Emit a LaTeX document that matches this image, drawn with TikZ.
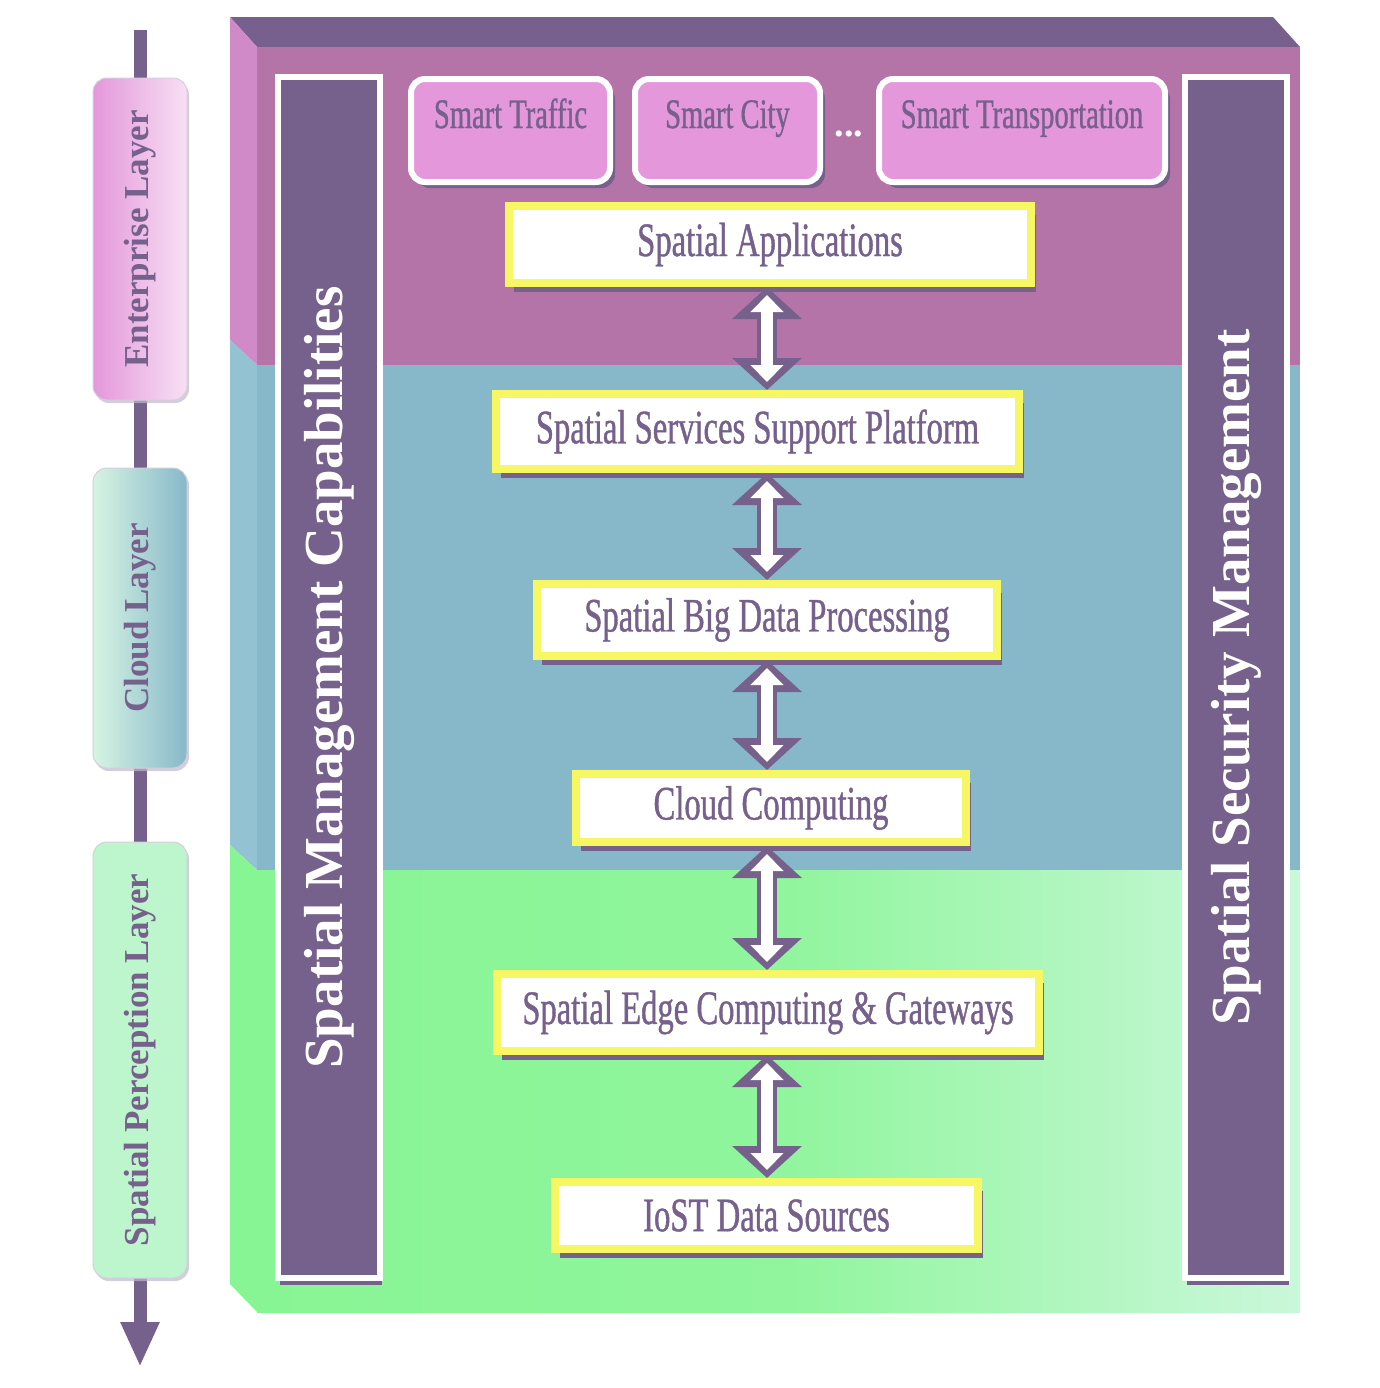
\documentclass[tikz,border=0pt]{standalone}
\usepackage{fontspec}
\setmainfont{Liberation Serif}
\newfontfamily\condfont[FakeStretch=0.68,FakeBold=0.8]{Liberation Serif}
\usepackage{tikz}
\usetikzlibrary{arrows.meta,shadows}

\definecolor{darkviolet}{HTML}{76608C}
\definecolor{topface}{HTML}{78608E}
\definecolor{enterband}{HTML}{B474A8}
\definecolor{enterside}{HTML}{D08AC8}
\definecolor{cloudband}{HTML}{87B8CA}
\definecolor{cloudside}{HTML}{93C2D2}
\definecolor{cloudlight}{HTML}{D6F4E2}
\definecolor{greenleft}{HTML}{88F594}
\definecolor{greenright}{HTML}{CAF7DA}
\definecolor{greenpale}{HTML}{BDF5CD}
\definecolor{appink}{HTML}{E497DB}
\definecolor{boxyellow}{HTML}{F7F763}

\def\PX{0.5pt}

\tikzset{
  sidecol/.style={draw=white, line width=3pt, fill=darkviolet, inner sep=0pt,
    minimum width=102*\PX, minimum height=1201*\PX, text=white,
    font=\bfseries\fontsize{27.5}{30}\selectfont,
    drop shadow={shadow xshift=1pt, shadow yshift=-3.5pt, fill=darkviolet, opacity=1}},
  appbox/.style={rounded corners=7pt, draw=white, line width=3pt, fill=appink,
    inner sep=0pt, text height=24.5pt, text depth=27pt, text=darkviolet,
    font=\condfont\fontsize{21}{24}\selectfont,
    drop shadow={shadow xshift=2.5pt, shadow yshift=-3pt, fill=darkviolet, opacity=1}},
  stackbox/.style={draw=boxyellow, line width=4pt, fill=white, inner sep=0pt,
    text=darkviolet, font=\condfont\fontsize{24}{28}\selectfont,
    drop shadow={shadow xshift=2.5pt, shadow yshift=-4.5pt, fill=darkviolet, opacity=1}},
  dblout/.style={draw=darkviolet, line width=10pt,
    {Triangle[width=34pt,length=16pt]}-{Triangle[width=34pt,length=16pt]}},
  dblin/.style={draw=white, line width=6pt, shorten <=4pt, shorten >=4pt,
    {Triangle[width=16pt,length=8.5pt]}-{Triangle[width=16pt,length=8.5pt]}},
  layeraxis/.style={draw=darkviolet, line width=6.5pt, -{Triangle[width=18pt,length=22.5pt]}},
  layerbox/.style={rounded corners=7pt, minimum width=94*\PX, inner sep=0pt,
    draw=darkviolet!30, line width=0.5pt, text=darkviolet,
    font=\bfseries\fontsize{17.5}{20}\selectfont,
    drop shadow={shadow xshift=1pt, shadow yshift=-1.5pt, fill=darkviolet!45, opacity=0.7}}
}

\begin{document}
\begin{tikzpicture}[x=0.5pt,y=-0.5pt]
\useasboundingbox (0,0) rectangle (1380,1388);

% box faces
\fill[topface] (230,17) -- (1273,17) -- (1300,47) -- (257,47) -- cycle;
\fill[enterband] (257,47) rectangle (1300,365);
\fill[cloudband] (257,365) rectangle (1300,870);
\shade[left color=greenleft, right color=greenright, middle color=greenleft!88!greenright] (257,870) rectangle (1300,1312);
\fill[enterside] (230,17) -- (257,47) -- (257,365) -- (230,340) -- cycle;
\fill[cloudside] (230,340) -- (257,365) -- (257,870) -- (230,845) -- cycle;
\fill[greenleft] (230,845) -- (257,870) -- (257,1312) -- (230,1284) -- cycle;

% side columns
\node[sidecol] (mgmt) at (329,677.5) {\rotatebox{90}{Spatial Management Capabilities}};
\node[sidecol] (secu) at (1236,677.5) {\rotatebox{90}{Spatial Security Management}};

% applications
\node[appbox, minimum width=199*\PX] (traffic) at (510.5,130.5) {Smart Traffic};
\node[appbox, minimum width=185*\PX] (city) at (727.5,130.5) {Smart City};
\node[font=\bfseries\fontsize{19}{20}\selectfont, text=white] (dots) at (849,134) {...};
\node[appbox, minimum width=286*\PX] (transp) at (1022,130.5) {Smart Transportation};

% stack
\node[stackbox, minimum width=522*\PX, minimum height=77*\PX] (apps) at (770,244.5) {Spatial Applications};
\node[stackbox, minimum width=523*\PX, minimum height=75*\PX] (svc) at (757.5,431.5) {Spatial Services Support Platform};
\node[stackbox, minimum width=460*\PX, minimum height=72*\PX] (bigd) at (767,620) {Spatial Big Data Processing};
\node[stackbox, minimum width=390*\PX, minimum height=68*\PX] (cloud) at (771,808) {Cloud Computing};
\node[stackbox, minimum width=542*\PX, minimum height=77*\PX] (edge) at (768,1012.5) {Spatial Edge Computing \& Gateways};
\node[stackbox, minimum width=423*\PX, minimum height=67*\PX] (iost) at (766.5,1215.5) {IoST Data Sources};

\coordinate (spine) at (767,0);
\foreach \a/\b in {apps/svc, svc/bigd, bigd/cloud, cloud/edge, edge/iost} {
  \draw[dblout] (spine |- \a.south) -- (spine |- \b.north);
  \draw[dblin] (spine |- \a.south) -- (spine |- \b.north);
}

% layer axis
\coordinate (axtop) at (140,30);
\coordinate (axtip) at (140,1367);
\draw[layeraxis] (axtop) -- (axtip);

\node[layerbox, minimum height=322*\PX, left color=appink, right color=appink!30!white] (entl) at (140,239) {\rotatebox{90}{Enterprise Layer}};
\node[layerbox, minimum height=300*\PX, left color=cloudlight, right color=cloudband] (cloudl) at (140,618) {\rotatebox{90}{Cloud Layer}};
\node[layerbox, minimum height=436*\PX, fill=greenpale] (percl) at (140,1060) {\rotatebox{90}{Spatial Perception Layer}};

\end{tikzpicture}
\end{document}
